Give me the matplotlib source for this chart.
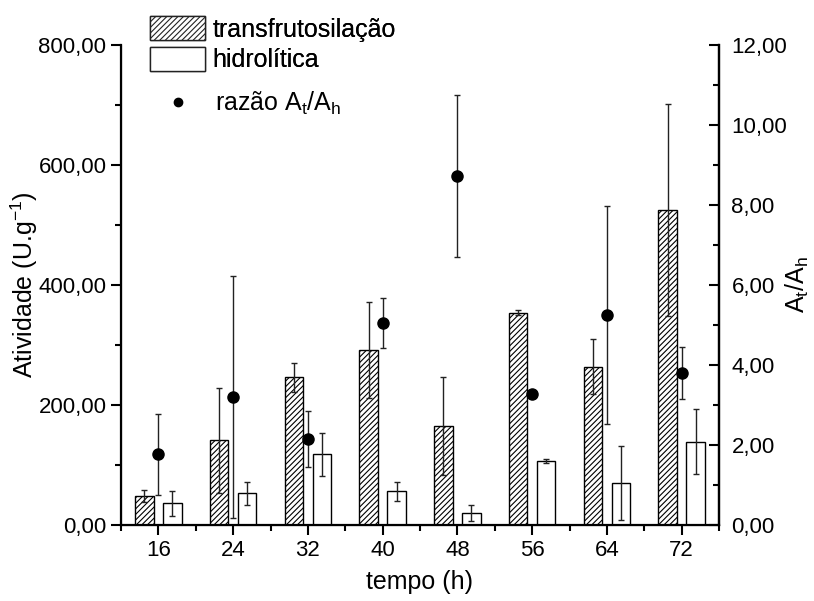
import matplotlib
matplotlib.use("Agg")
import matplotlib.pyplot as plt
from matplotlib.patches import Patch
from matplotlib.lines import Line2D
from matplotlib.ticker import MultipleLocator, FuncFormatter

plt.rcParams["font.family"] = ["Liberation Sans", "DejaVu Sans"]
plt.rcParams["mathtext.fontset"] = "custom"
plt.rcParams["mathtext.rm"] = "Liberation Sans"
plt.rcParams["mathtext.it"] = "Liberation Sans:italic"
plt.rcParams["hatch.color"] = "#444444"
plt.rcParams["hatch.linewidth"] = 0.8

tempo = [16, 24, 32, 40, 48, 56, 64, 72]
transf = [49, 141, 246, 291, 165, 354, 264, 525]
transf_err = [10, 87, 24, 80, 81, 4, 46, 176]
hidro = [36, 53, 118, 56, 20, 107, 70, 139]
hidro_err = [21, 19, 36, 16, 14, 3, 62, 54]
razao = [1.77, 3.2, 2.15, 5.05, 8.73, 3.27, 5.25, 3.8]
razao_err = [1.01, 3.03, 0.70, 0.62, 2.03, 0.0, 2.72, 0.66]


def virgula(v, pos):
    return f"{v:.2f}".replace(".", ",")


fig = plt.figure(figsize=(8.14, 6.01), dpi=100)
ax = fig.add_axes([121 / 814, 76 / 601, 598 / 814, 480 / 601])

x_t = [t - 1.5 for t in tempo]
x_h = [t + 1.5 for t in tempo]
ax.bar(x_t, transf, width=2, color="white", edgecolor="black", linewidth=1.0, hatch="//////")
ax.bar(x_h, hidro, width=2, color="white", edgecolor="black", linewidth=1.0)
ax.errorbar(x_t, transf, yerr=transf_err, fmt="none", ecolor="#222222", elinewidth=1.0, capsize=2)
ax.errorbar(x_h, hidro, yerr=hidro_err, fmt="none", ecolor="#222222", elinewidth=1.0, capsize=2)

ax.set_xlim(12, 76)
ax.set_ylim(0, 800)
ax.set_xticks(tempo)
ax.xaxis.set_minor_locator(MultipleLocator(4))
ax.yaxis.set_major_locator(MultipleLocator(200))
ax.yaxis.set_minor_locator(MultipleLocator(100))
ax.yaxis.set_major_formatter(FuncFormatter(virgula))
ax.tick_params(which="major", direction="out", length=7, width=1.5, labelsize=16)
ax.tick_params(which="minor", direction="out", length=4, width=1.5)
ax.spines["top"].set_visible(False)
for s in ["left", "bottom", "right"]:
    ax.spines[s].set_linewidth(1.6)
ax.set_xlabel("tempo (h)", fontsize=18, labelpad=7)
ax.set_ylabel(r"Atividade (U.g$^{\mathrm{-1}}$)", fontsize=18)
ax.yaxis.set_label_coords(-0.135, 0.5)

ax2 = ax.twinx()
ax2.errorbar(tempo, razao, yerr=razao_err, fmt="o", color="black", markersize=8,
             ecolor="#222222", elinewidth=1.0, capsize=2)
ax2.set_ylim(0, 12)
ax2.yaxis.set_major_locator(MultipleLocator(2))
ax2.yaxis.set_minor_locator(MultipleLocator(1))
ax2.yaxis.set_major_formatter(FuncFormatter(virgula))
ax2.tick_params(which="major", direction="in", length=7, width=1.5, labelsize=16, pad=9)
ax2.tick_params(which="minor", direction="in", length=4, width=1.5)
ax2.spines["top"].set_visible(False)
ax2.spines["right"].set_linewidth(1.6)
ax2.set_ylabel(r"A$_\mathrm{t}$/A$_\mathrm{h}$", fontsize=18)
ax2.yaxis.set_label_coords(1.108, 0.5)

leg1 = fig.legend(handles=[Patch(facecolor="white", edgecolor="#222222", hatch="//////", label="transfrutosilação"),
                           Patch(facecolor="white", edgecolor="#222222", label="hidrolítica")],
                  loc="upper left", bbox_to_anchor=(140 / 814, 1 - 6 / 601), frameon=False,
                  fontsize=18, handlelength=2.2, handleheight=1.1, labelspacing=0.2,
                  handletextpad=0.3, borderaxespad=0)
fig.add_artist(leg1)
fig.legend(handles=[Line2D([], [], marker="o", color="black", linestyle="none", markersize=6,
                           label=r"razão A$_\mathrm{t}$/A$_\mathrm{h}$")],
           loc="upper left", bbox_to_anchor=(140 / 814, 1 - 80 / 601), frameon=False,
           fontsize=18, handlelength=2.2, handletextpad=0.4, borderaxespad=0)

fig.savefig("out.png", dpi=100)
